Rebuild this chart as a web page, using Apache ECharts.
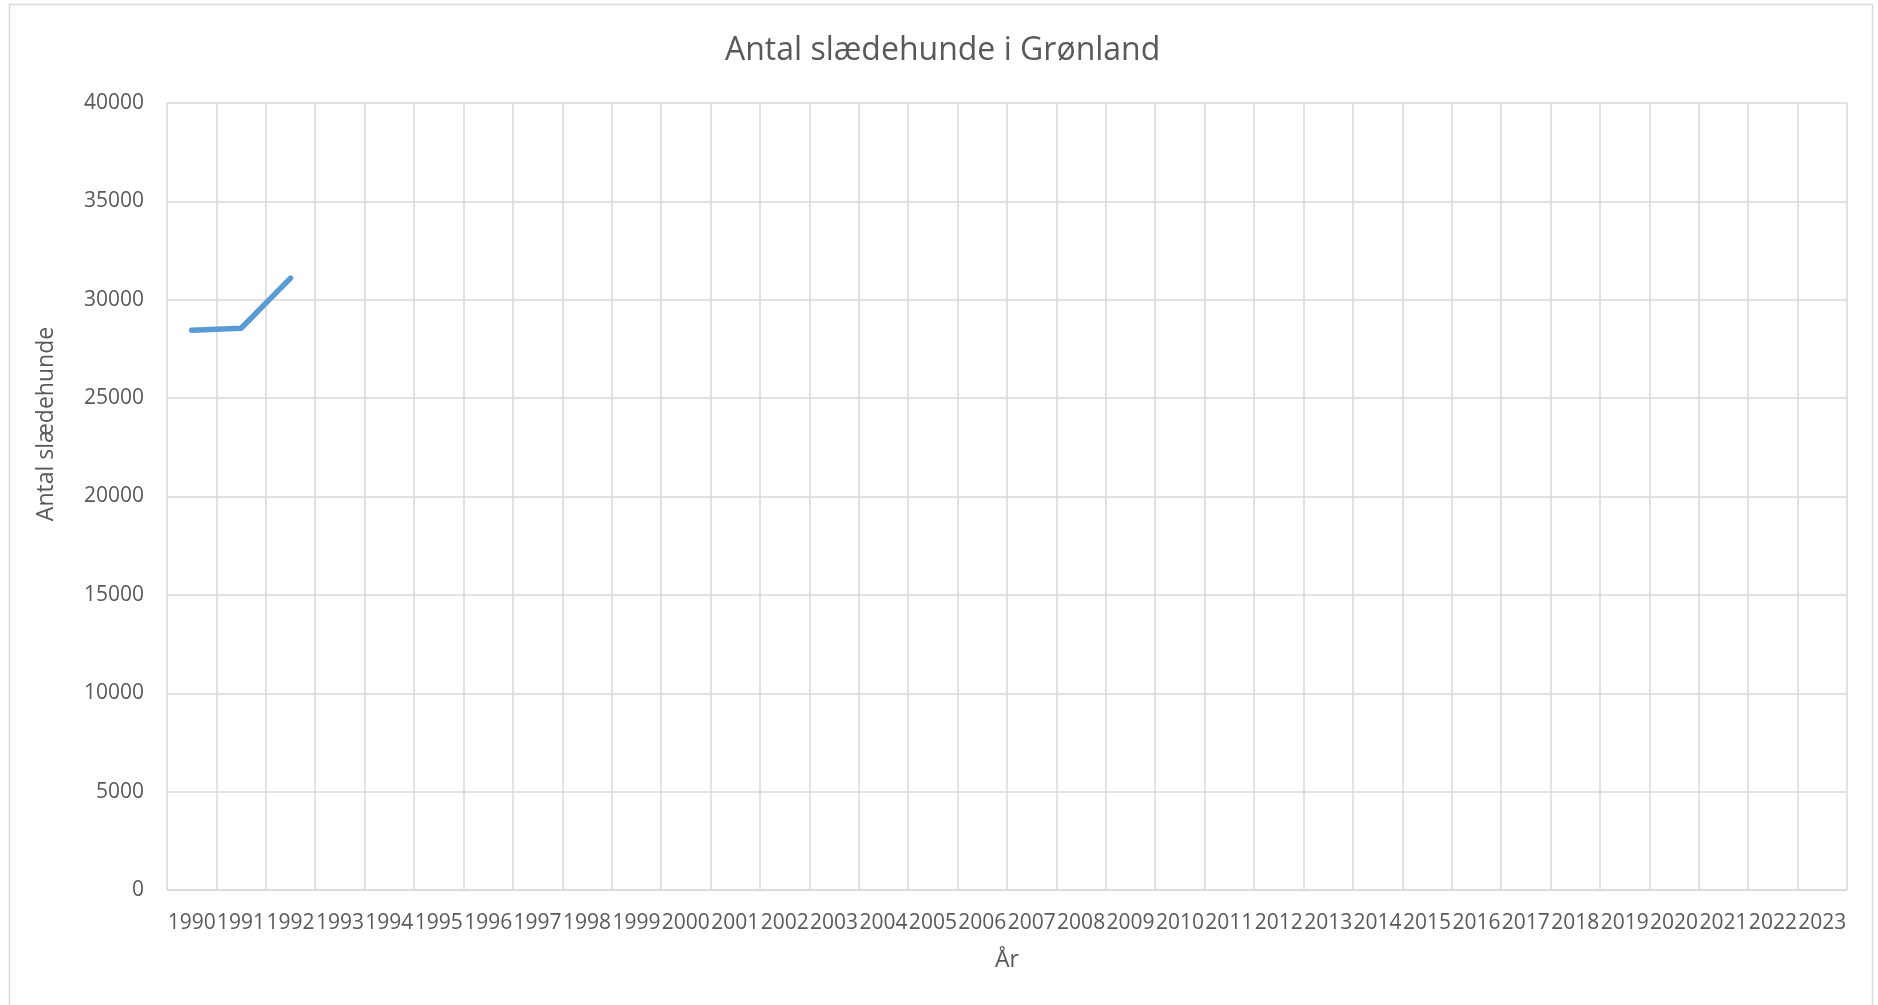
<!DOCTYPE html>
<html>
<head>
<meta charset="utf-8">
<script src="https://cdn.jsdelivr.net/npm/echarts@6/dist/echarts.min.js"></script>
<style>
html,body{margin:0;padding:0;background:#fff;}
#main{width:1878px;height:1005px;}
</style>
</head>
<body>
<div id="main"></div>
<script>
// år og antal slædehunde (kun 1990-1992 har værdier)
var years = [];
for (var y = 1990; y <= 2023; y++) { years.push(String(y)); }
var dogs = [28450, 28550, 31100];
var yTicks = [0, 5000, 10000, 15000, 20000, 25000, 30000, 35000, 40000];

var seriesData = years.map(function (yr, i) {
    return i < dogs.length ? dogs[i] : null;
});

var myChart = echarts.init(document.getElementById('main'));
var font = 'Open Sans';
option = {
    backgroundColor: '#ffffff',
    animation: false,
    title: {
        text: 'Antal slædehunde i Grønland',
        left: 720,
        top: 30,
        textStyle: {
            fontFamily: font,
            fontSize: 32,
            fontWeight: 'normal',
            color: '#595959'
        }
    },
    graphic: [{
        type: 'rect',
        shape: { x: 9.5, y: 4.5, width: 1863, height: 1010 },
        style: { fill: 'none', stroke: '#d9d9d9', lineWidth: 1.5 },
        silent: true
    }],
    grid: {
        left: 167,
        right: 31,
        top: 103,
        bottom: 115,
        containLabel: false
    },
    xAxis: {
        type: 'category',
        data: years,
        boundaryGap: true,
        name: 'År',
        nameLocation: 'middle',
        nameGap: 59,
        nameTextStyle: { fontFamily: font, fontSize: 23, color: '#595959' },
        axisLine: { lineStyle: { color: '#d9d9d9', width: 1.5 } },
        axisTick: { show: false },
        axisLabel: {
            interval: 0,
            margin: 23,
            fontFamily: font,
            fontSize: 21,
            color: '#595959'
        },
        splitLine: {
            show: true,
            interval: 0,
            lineStyle: { color: '#d9d9d9', width: 1.5 }
        }
    },
    yAxis: {
        type: 'value',
        min: yTicks[0],
        max: yTicks[yTicks.length - 1],
        interval: yTicks[1] - yTicks[0],
        name: 'Antal slædehunde',
        nameLocation: 'middle',
        nameRotate: 90,
        nameGap: 109,
        nameTextStyle: {
            fontFamily: font,
            fontSize: 23,
            color: '#595959',
            padding: [0, 0, 0, 145]
        },
        axisLine: { show: false },
        axisTick: { show: false },
        axisLabel: {
            margin: 23,
            fontFamily: font,
            fontSize: 21,
            color: '#595959',
            formatter: function (v) { return String(v); }
        },
        splitLine: {
            show: true,
            lineStyle: { color: '#d9d9d9', width: 1.5 }
        }
    },
    series: [{
        name: 'Antal slædehunde',
        type: 'line',
        data: seriesData,
        showSymbol: false,
        symbol: 'none',
        connectNulls: false,
        lineStyle: { color: '#5b9bd5', width: 5.5, cap: 'round', join: 'round' },
        itemStyle: { color: '#5b9bd5' }
    }]
};
myChart.setOption(option);
</script>
</body>
</html>
